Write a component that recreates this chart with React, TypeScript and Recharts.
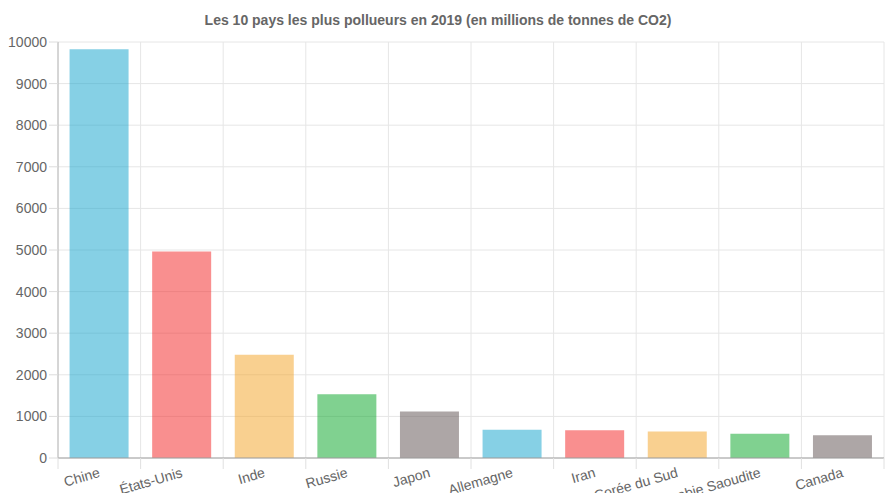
import React from 'react';
import { BarChart, Bar, XAxis, YAxis, CartesianGrid, Cell } from 'recharts';

const countries = ['Chine', 'États-Unis', 'Inde', 'Russie', 'Japon', 'Allemagne', 'Iran', 'Corée du Sud', 'Arabie Saoudite', 'Canada'];
const emissions = [9826, 4965, 2480, 1532, 1120, 680, 665, 635, 580, 545];
const barColors = ['#0da1cb', '#f31f1f', '#f3a121', '#01a321', '#5b4d4d'];
const yTicks = [0, 1000, 2000, 3000, 4000, 5000, 6000, 7000, 8000, 9000, 10000];

const data = countries.map((name, i) => ({ name, value: emissions[i] }));

const FONT = '"Liberation Sans", Arial, sans-serif';

// label + boundary tick mark, chart.js style
function CountryTick(props: any) {
  const { x, y, payload, index } = props;
  const half = payload?.offset ?? 0;
  const ty = y + 14;
  return (
    <g>
      <line x1={x - half} x2={x - half} y1={y} y2={y + 11} stroke="#e0e0e0" />
      {index === countries.length - 1 && (
        <line x1={x + half} x2={x + half} y1={y} y2={y + 11} stroke="#e0e0e0" />
      )}
      <text
        x={x}
        y={ty}
        dy="0.35em"
        textAnchor="end"
        transform={`rotate(-16, ${x}, ${ty})`}
        fill="#666"
        fontSize={14}
        fontFamily={FONT}
      >
        {payload.value}
      </text>
    </g>
  );
}

// vertical grid lines sit on category boundaries, not centers
const boundaryLines = ({ offset }: any) => {
  const n = countries.length;
  const out: number[] = [];
  for (let i = 0; i <= n; i++) out.push(offset.left + (offset.width * i) / n);
  return out;
};

export default function App() {
  return (
    <div style={{ position: 'absolute', left: 0, top: 0, width: 885, height: 493, background: '#fff' }}>
      <div
        style={{
          position: 'absolute',
          top: 11,
          left: 0,
          width: 876,
          textAlign: 'center',
          fontFamily: FONT,
          fontWeight: 'bold',
          fontSize: 14,
          color: '#666',
          lineHeight: '18px',
        }}
      >
        Les 10 pays les plus pollueurs en 2019 (en millions de tonnes de CO2)
      </div>
      <BarChart
        width={885}
        height={493}
        data={data}
        margin={{ top: 42, right: 1, bottom: 0, left: 0 }}
        barCategoryGap="14%"
      >
        <CartesianGrid stroke="#e6e6e6" verticalCoordinatesGenerator={boundaryLines} />
        <XAxis
          dataKey="name"
          height={35}
          interval={0}
          tickSize={0}
          tickMargin={0}
          tickLine={false}
          axisLine={{ stroke: '#a0a0a0' }}
          tick={<CountryTick />}
        />
        <YAxis
          width={58}
          domain={[0, 10000]}
          ticks={yTicks}
          interval={0}
          tickSize={9}
          tickMargin={2}
          tickLine={{ stroke: '#dcdcdc' }}
          axisLine={{ stroke: '#b8b8b8' }}
          tick={{ fill: '#666', fontSize: 14, fontFamily: FONT }}
        />
        <Bar dataKey="value" isAnimationActive={false} fillOpacity={0.5}>
          {data.map((d, i) => (
            <Cell key={d.name} fill={barColors[i % barColors.length]} />
          ))}
        </Bar>
      </BarChart>
    </div>
  );
}
